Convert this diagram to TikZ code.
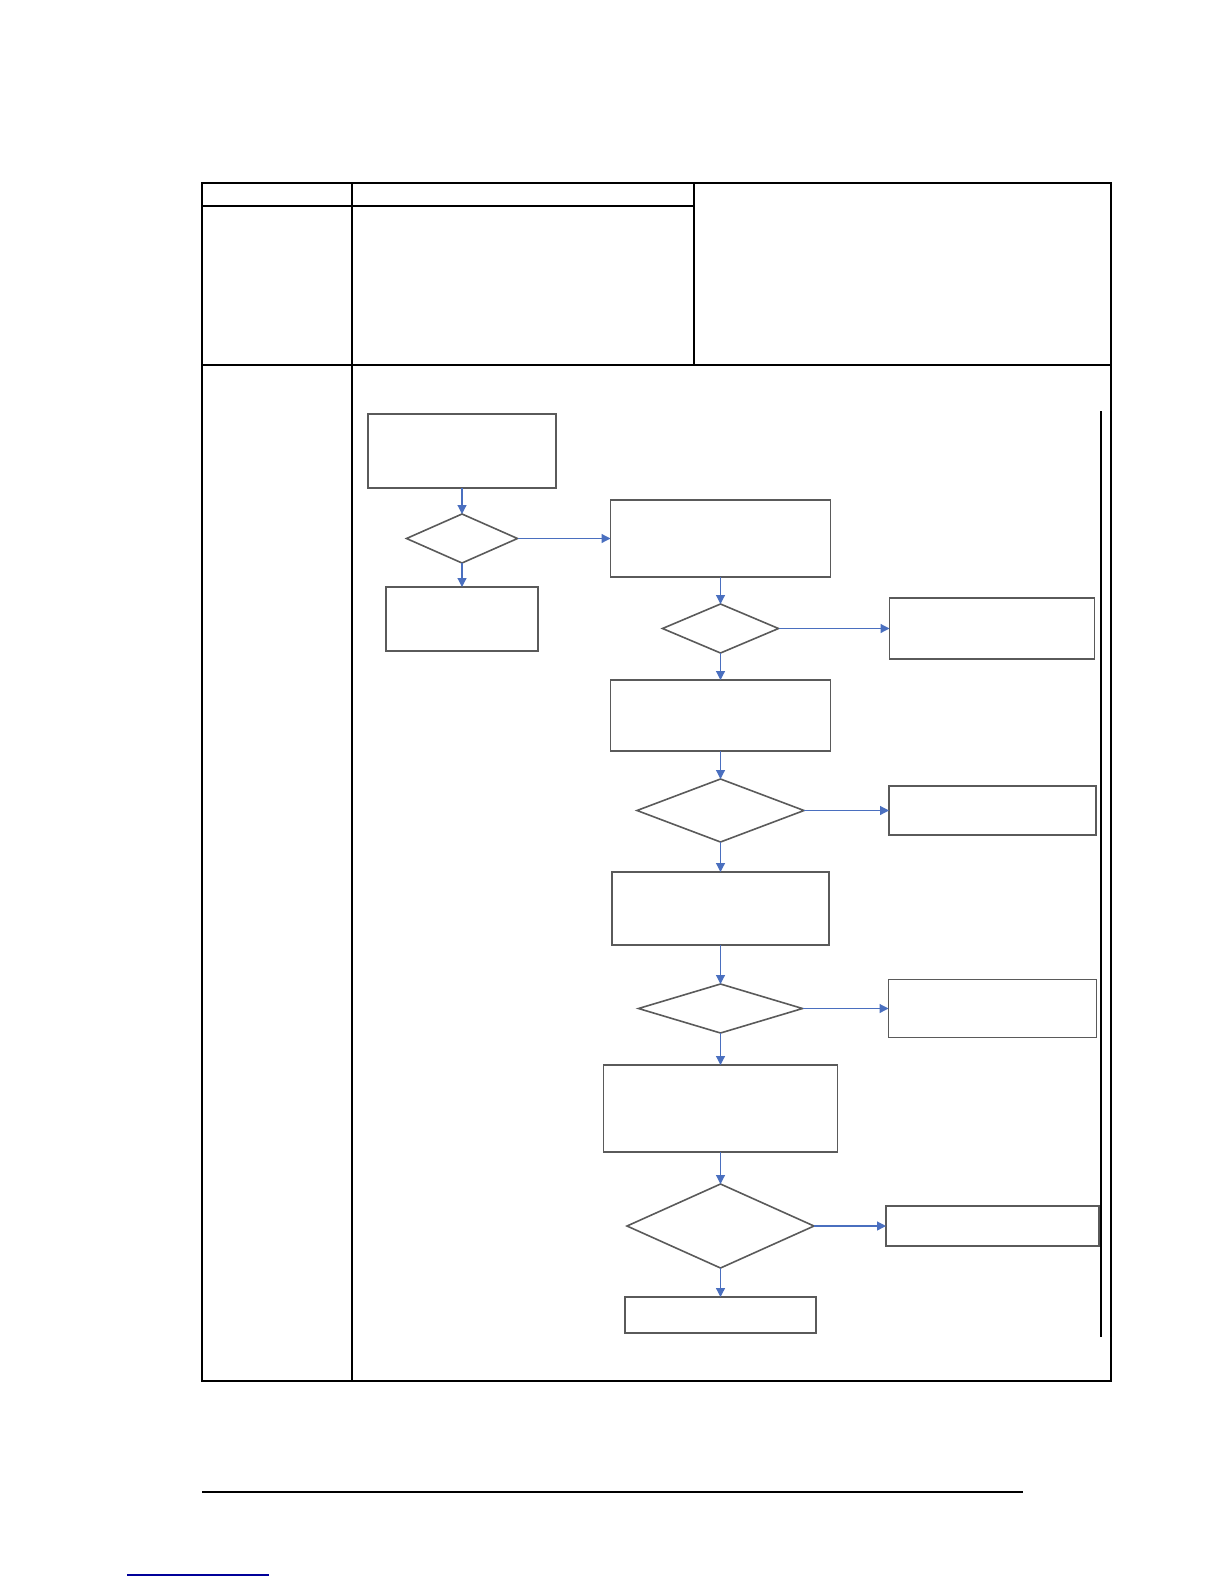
\documentclass[tikz,border=0pt]{standalone}
\usetikzlibrary{positioning, arrows.meta, shapes.geometric}
\definecolor{flowline}{HTML}{4A6FBF}
\definecolor{boxline}{HTML}{5A5A5A}

\begin{document}
\begin{tikzpicture}[
    x=0.5pt, y=-0.5pt,
    >={Triangle[length=4.5pt, width=4.5pt]},
    rule/.style={draw=black, line width=0.65pt},
    stepbox/.style={
        draw=boxline,
        line width=0.8pt,
        rectangle,
        inner sep=0pt,
        outer sep=0pt
    },
    check/.style={
        draw=boxline,
        line width=0.8pt,
        diamond,
        inner sep=0pt,
        outer sep=0pt
    },
    flow/.style={->, draw=flowline, line width=0.6pt}
]
\useasboundingbox (0,0) rectangle (1224,1584);

% Table frame
\draw[rule] (202,183) rectangle (1111,1381);
\draw[rule] (352,183) -- (352,1381);
\draw[rule] (694,183) -- (694,365);
\draw[rule] (202,206) -- (694,206);
\draw[rule] (202,365) -- (1111,365);

% Start branch
\node[stepbox, minimum width=94pt, minimum height=37pt] (A) at (462,451) {};
\node[check, below=13pt of A, minimum width=55.5pt, minimum height=24.5pt] (D1) {};
\node[stepbox, below=12pt of D1, minimum width=76pt, minimum height=32pt] (B) {};

% Main column
\node[stepbox, right=46.5pt of D1, minimum width=110pt, minimum height=38.5pt] (C) {};
\node[check, below=13.5pt of C, minimum width=58pt, minimum height=24.5pt] (D2) {};
\node[stepbox, below=13.5pt of D2, minimum width=110pt, minimum height=35.5pt] (E) {};
\node[check, below=14pt of E, minimum width=83.5pt, minimum height=31.5pt] (D3) {};
\node[stepbox, below=15pt of D3, minimum width=108.5pt, minimum height=36.5pt] (F) {};
\node[check, below=19.5pt of F, minimum width=82pt, minimum height=24.5pt] (D4) {};
\node[stepbox, below=16pt of D4, minimum width=117pt, minimum height=43.5pt] (G) {};
\node[check, below=16pt of G, minimum width=93.5pt, minimum height=42pt] (D5) {};
\node[stepbox, below=14.5pt of D5, minimum width=95.5pt, minimum height=18pt] (H) {};

% Side results
\node[stepbox, right=55.5pt of D2, minimum width=102.5pt, minimum height=30.5pt] (R1) {};
\node[stepbox, right=42.5pt of D3, minimum width=103.5pt, minimum height=24.5pt] (R2) {};
\node[stepbox, right=43pt of D4, minimum width=104pt, minimum height=29pt] (R3) {};
\node[stepbox, right=36pt of D5, minimum width=106.5pt, minimum height=20pt] (R4) {};

% Side rule
\coordinate (V1) at (1101,411);
\coordinate (V2) at (1101,1337);
\draw[rule] (V1) -- (V2);

% Edges
\draw[flow] (A) -- (D1);
\draw[flow] (D1) -- (B);
\draw[flow] (D1) -- (C);
\draw[flow] (C) -- (D2);
\draw[flow] (D2) -- (R1);
\draw[flow] (D2) -- (E);
\draw[flow] (E) -- (D3);
\draw[flow] (D3) -- (R2);
\draw[flow] (D3) -- (F);
\draw[flow] (F) -- (D4);
\draw[flow] (D4) -- (R3);
\draw[flow] (D4) -- (G);
\draw[flow] (G) -- (D5);
\draw[flow] (D5) -- (R4);
\draw[flow] (D5) -- (H);

% Footer
\draw[rule] (202,1492) -- (1023,1492);
\draw[draw=blue!60!black, line width=0.8pt] (127,1575) -- (269,1575);

\end{tikzpicture}
\end{document}
